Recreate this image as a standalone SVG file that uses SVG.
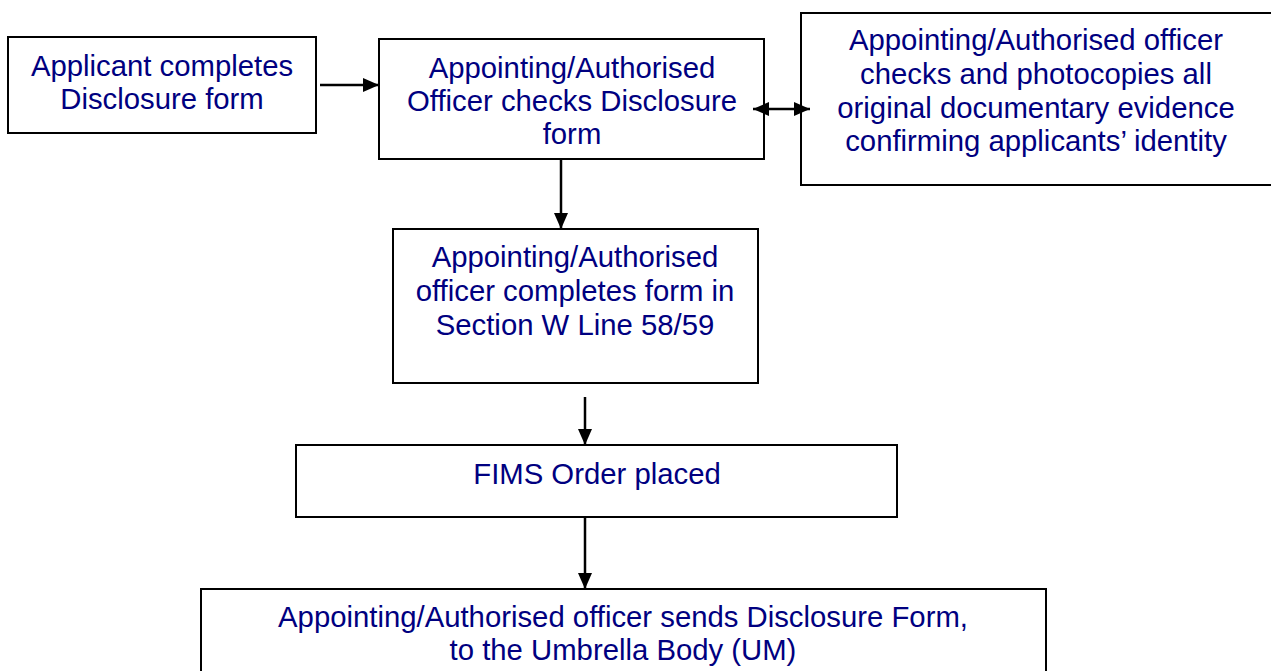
<svg xmlns="http://www.w3.org/2000/svg" width="1271" height="671" viewBox="0 0 1271 671">
<defs>
<style>
.box{fill:#fff;stroke:#000;stroke-width:2}
.t{font-family:"Liberation Sans",Arial,sans-serif;font-size:29.3px;fill:#000080;text-anchor:middle}
.c{stroke:#000;stroke-width:2.5;fill:none}
</style>
<marker id="ah" viewBox="0 0 16 14" refX="16" refY="7" markerWidth="16" markerHeight="14" markerUnits="userSpaceOnUse" orient="auto-start-reverse">
<path d="M0,0 L16,7 L0,14 Z" fill="#000"/>
</marker>
</defs>
<rect width="1271" height="671" fill="#fff"/>
<g id="n1">
<rect class="box" x="8" y="37" width="308" height="96"/>
<text class="t" x="162" y="75.5">Applicant completes</text>
<text class="t" x="162" y="109">Disclosure form</text>
</g>
<g id="n2">
<rect class="box" x="379" y="39" width="385" height="120"/>
<text class="t" x="572" y="78">Appointing/Authorised</text>
<text class="t" x="572" y="111">Officer checks Disclosure</text>
<text class="t" x="572" y="144">form</text>
</g>
<g id="n3">
<rect class="box" x="801" y="13" width="480" height="172"/>
<text class="t" x="1036" y="50">Appointing/Authorised officer</text>
<text class="t" x="1036" y="84">checks and photocopies all</text>
<text class="t" x="1036" y="117.5">original documentary evidence</text>
<text class="t" x="1036" y="151">confirming applicants’ identity</text>
</g>
<g id="n4">
<rect class="box" x="393" y="229" width="365" height="154"/>
<text class="t" x="575" y="267">Appointing/Authorised</text>
<text class="t" x="575" y="301">officer completes form in</text>
<text class="t" x="575" y="335">Section W Line 58/59</text>
</g>
<g id="n5">
<rect class="box" x="296" y="445" width="601" height="72"/>
<text class="t" x="597" y="484">FIMS Order placed</text>
</g>
<g id="n6">
<rect class="box" x="201" y="589" width="845" height="100"/>
<text class="t" x="623" y="627">Appointing/Authorised officer sends Disclosure Form,</text>
<text class="t" x="623" y="660">to the Umbrella Body (UM)</text>
</g>
<g id="connectors">
<line class="c" x1="320" y1="85" x2="379" y2="85" marker-end="url(#ah)"/>
<line class="c" x1="753" y1="109" x2="810" y2="109" marker-start="url(#ah)" marker-end="url(#ah)"/>
<line class="c" x1="561" y1="159" x2="561" y2="229" marker-end="url(#ah)"/>
<line class="c" x1="585" y1="397" x2="585" y2="445" marker-end="url(#ah)"/>
<line class="c" x1="585" y1="517" x2="585" y2="589" marker-end="url(#ah)"/>
</g>
</svg>
